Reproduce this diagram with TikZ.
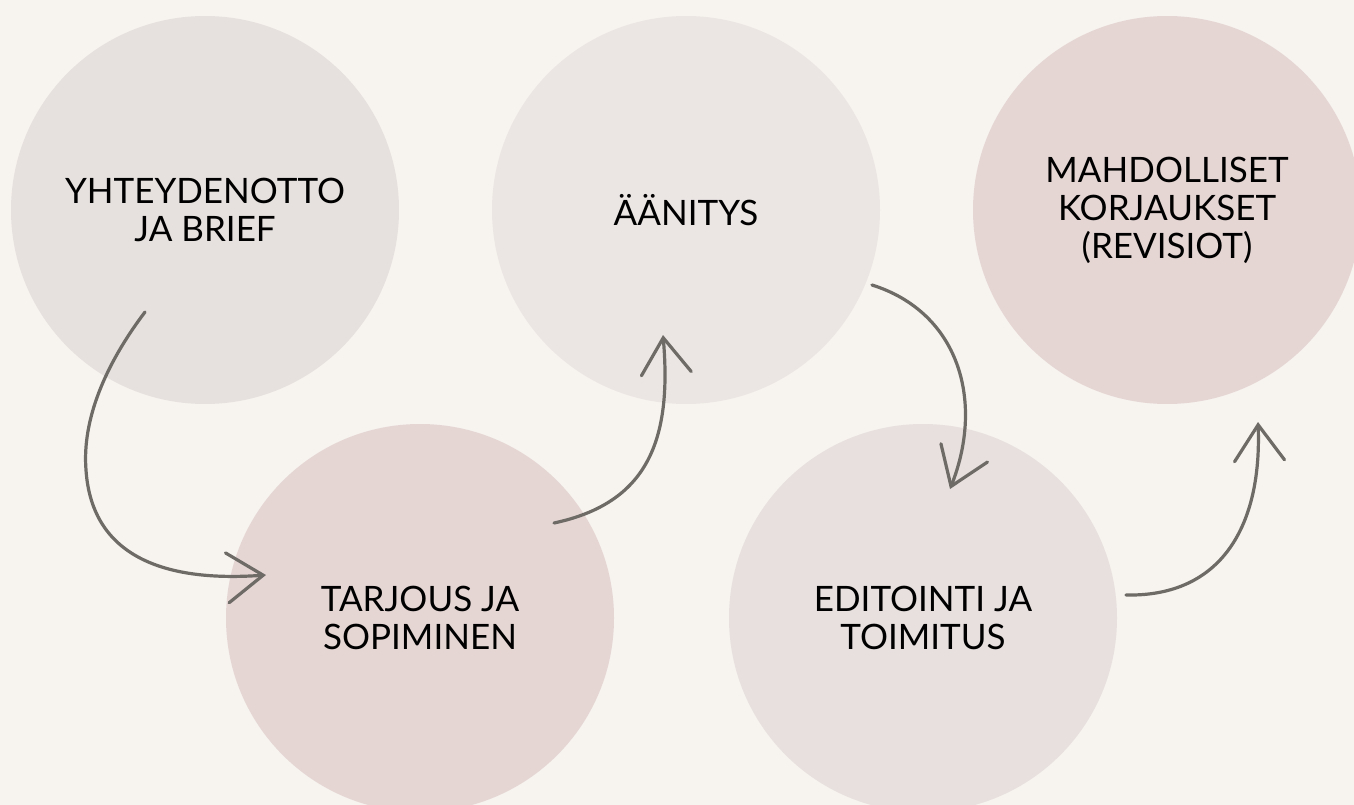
\documentclass[tikz,border=0pt]{standalone}
\usepackage{fontspec}
\setmainfont{Lato}
\usetikzlibrary{arrows.meta}
\definecolor{bgc}{HTML}{F7F3EE}
\definecolor{greyA}{HTML}{E6E1DF}
\definecolor{greyB}{HTML}{EBE6E4}
\definecolor{pinkA}{HTML}{E5D6D4}
\definecolor{greyC}{HTML}{E7E0DF}
\definecolor{arrowc}{HTML}{6E6A65}
\tikzset{
  stepcircle/.style={circle, minimum size=388pt, inner sep=0pt, align=center,
    font=\fontsize{35}{38}\selectfont, text=black},
  flow/.style={draw=arrowc, line width=3.2pt, line cap=round,
    -{Straight Barb[length=36pt,width=50pt,line width=3.2pt,line cap=round]}}
}
\begin{document}
\begin{tikzpicture}[x=1pt,y=-1pt]
\useasboundingbox (0,0) rectangle (1354,805);
\clip (0,0) rectangle (1354,805);
\fill[bgc] (0,0) rectangle (1354,805);
\node[stepcircle, fill=greyA] (c1) at (205,210) {YHTEYDENOTTO\\JA BRIEF};
\node[stepcircle, fill=greyB] (c2) at (686,210) {ÄÄNITYS};
\node[stepcircle, fill=pinkA] (c3) at (1167,210) {MAHDOLLISET\\KORJAUKSET\\(REVISIOT)};
\node[stepcircle, fill=pinkA] (c4) at (420,618) {TARJOUS JA\\SOPIMINEN};
\node[stepcircle, fill=greyC] (c5) at (923,618) {EDITOINTI JA\\TOIMITUS};
\coordinate (a1s) at (145,312);
\coordinate (a1e) at (266,575);
\coordinate (a2s) at (554,523);
\coordinate (a2e) at (663,335);
\coordinate (a3s) at (872,285);
\coordinate (a3e) at (950,489);
\coordinate (a4s) at (1126,595);
\coordinate (a4e) at (1258,422);
\draw[flow] (a1s) .. controls (105,365) and (82,420) .. (86,470)
  .. controls (92,560) and (170,582) .. (a1e);
\draw[flow] (a2s) .. controls (648,503) and (672,440) .. (a2e);
\draw[flow] (a3s) .. controls (958,312) and (985,400) .. (a3e);
\draw[flow] (a4s) .. controls (1222,597) and (1262,525) .. (a4e);
\end{tikzpicture}
\end{document}
